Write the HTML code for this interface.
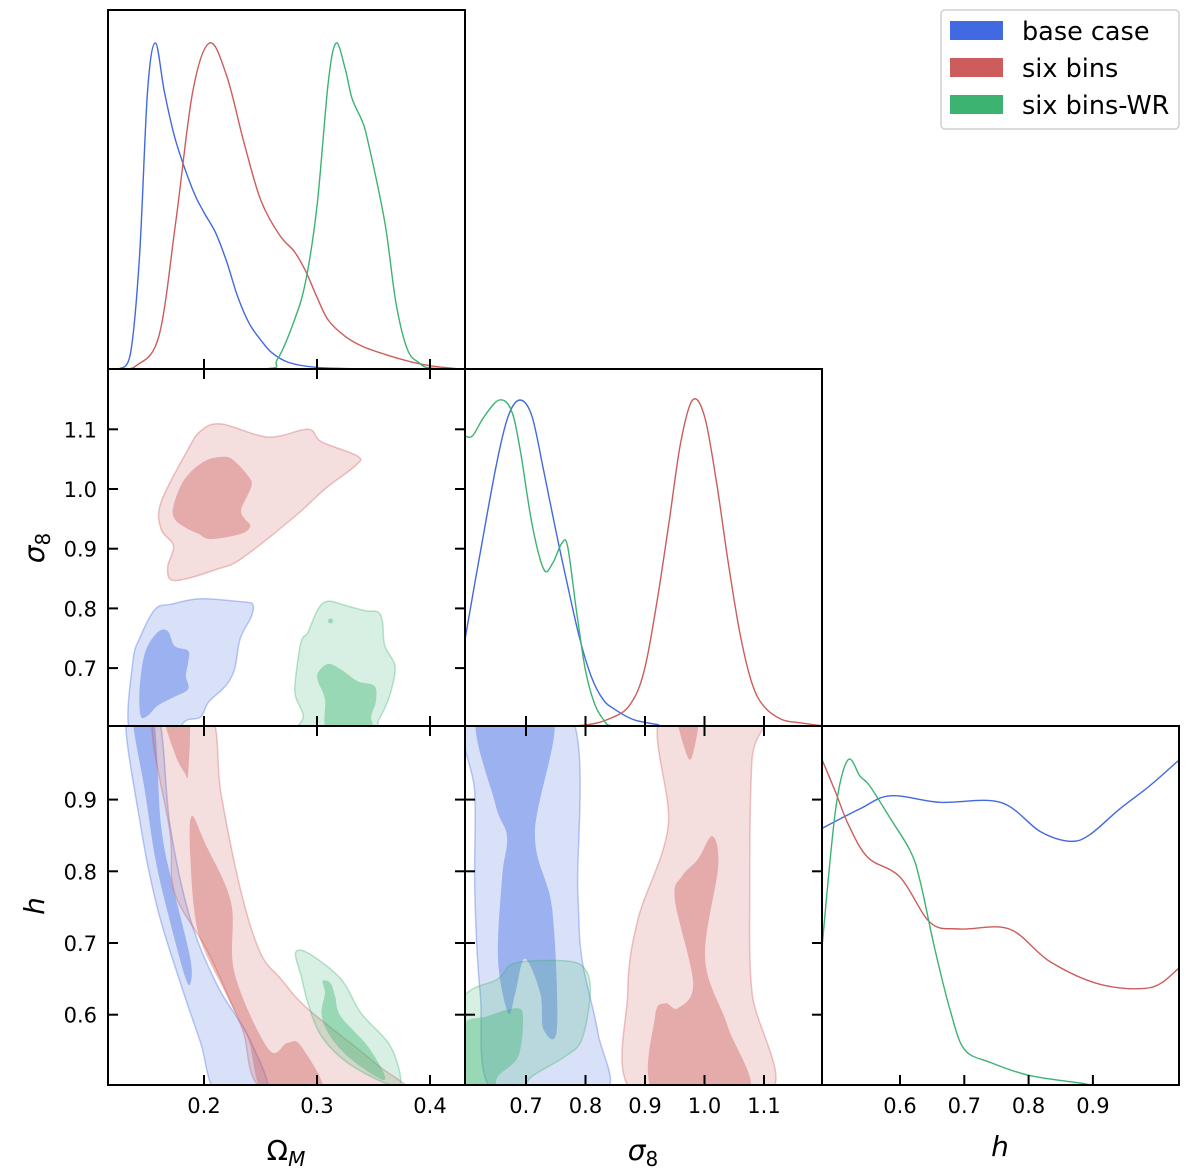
<!DOCTYPE html>
<html><head><meta charset="utf-8"><style>
html,body{margin:0;padding:0;background:#fff;}
svg{display:block;font-family:"DejaVu Sans","Liberation Sans",sans-serif;}
</style></head><body>
<svg id="fig" width="1200" height="1168" viewBox="0 0 1200 1168" xmlns="http://www.w3.org/2000/svg">
<defs>
<clipPath id="c11"><rect x="108" y="10" width="357" height="359"/></clipPath>
<clipPath id="c21"><rect x="108" y="369" width="357" height="357"/></clipPath>
<clipPath id="c22"><rect x="465" y="369" width="357" height="357"/></clipPath>
<clipPath id="c31"><rect x="108" y="726" width="357" height="359"/></clipPath>
<clipPath id="c32"><rect x="465" y="726" width="357" height="359"/></clipPath>
<clipPath id="c33"><rect x="822" y="726" width="357" height="359"/></clipPath>
</defs>
<g id="layer"></g>
</svg>
<script>
// ---- axis data ----
const omTicks=[0.2,0.3,0.4];
const s8Ticks=[0.7,0.8,0.9,1.0,1.1];
const s8YTicks=[0.7,0.8,0.9,1.0,1.1];
const hTicks=[0.6,0.7,0.8,0.9];
const seriesNames=["base case","six bins","six bins-WR"];
const colors=["#4169e1","#cd5c5c","#3cb371"];

// ---- 1D marginals ----
const omBlueX=[0.125,0.135,0.143,0.150,0.157,0.165,0.175,0.190,0.200,0.210,0.220,0.230,0.240,0.250,0.260,0.275,0.300,0.350,0.43];
const omBlueP=[0,0.05,0.35,0.85,1.0,0.85,0.70,0.55,0.48,0.42,0.33,0.22,0.14,0.09,0.05,0.02,0.005,0,0];
const omRedX=[0.125,0.14,0.16,0.175,0.19,0.205,0.22,0.235,0.25,0.267,0.28,0.29,0.30,0.31,0.325,0.34,0.36,0.38,0.40,0.42,0.43];
const omRedP=[0,0.01,0.1,0.45,0.85,1.0,0.9,0.7,0.52,0.41,0.36,0.3,0.22,0.15,0.1,0.07,0.045,0.025,0.01,0.002,0];
const omGreenX=[0.125,0.25,0.265,0.28,0.29,0.30,0.31,0.317,0.325,0.331,0.34,0.345,0.36,0.37,0.38,0.39,0.40,0.43];
const omGreenP=[0,0,0.03,0.15,0.27,0.5,0.88,1.0,0.92,0.83,0.76,0.7,0.45,0.2,0.06,0.02,0.003,0];

const s8BlueX=[0.597,0.62,0.65,0.67,0.69,0.71,0.73,0.75,0.77,0.79,0.81,0.83,0.85,0.88,0.92,0.95,1.2];
const s8BlueP=[0.26,0.5,0.8,0.95,1.0,0.95,0.78,0.6,0.43,0.27,0.15,0.08,0.05,0.02,0.005,0,0];
const s8RedX=[0.597,0.78,0.85,0.88,0.90,0.92,0.94,0.96,0.98,1.0,1.02,1.04,1.06,1.08,1.10,1.13,1.16,1.2];
const s8RedP=[0,0,0.03,0.08,0.18,0.38,0.62,0.87,1.0,0.95,0.75,0.5,0.28,0.13,0.06,0.02,0.01,0];
const s8GreenX=[0.597,0.61,0.63,0.655,0.675,0.69,0.71,0.73,0.745,0.76,0.77,0.785,0.80,0.815,0.83,0.845,0.9];
const s8GreenP=[0.89,0.89,0.95,1.0,0.97,0.85,0.62,0.48,0.5,0.56,0.55,0.35,0.17,0.07,0.02,0,0];

const hBlueX=[0.479,0.538,0.585,0.662,0.756,0.818,0.864,0.895,0.942,0.988,1.034];
const hBlueP=[0.79,0.85,0.89,0.87,0.87,0.78,0.75,0.77,0.85,0.92,1.0];
const hRedX=[0.479,0.5,0.52,0.55,0.6,0.647,0.693,0.77,0.833,0.911,0.99,1.034];
const hRedP=[1.0,0.9,0.8,0.7,0.64,0.5,0.48,0.48,0.38,0.31,0.3,0.36];
const hGreenX=[0.479,0.50,0.519,0.538,0.553,0.585,0.616,0.631,0.654,0.678,0.70,0.74,0.80,0.88,0.91,1.034];
const hGreenP=[0.43,0.85,1.0,0.95,0.92,0.82,0.72,0.63,0.42,0.23,0.11,0.07,0.03,0.006,0,0];

// ---- 2D contours (x,y data pairs) ----
const omS8RedOuter=[[0.170,0.849],[0.168,0.871],[0.173,0.905],[0.162,0.933],[0.162,0.978],[0.186,1.067],[0.197,1.097],[0.215,1.109],[0.257,1.087],[0.292,1.100],[0.304,1.079],[0.336,1.055],[0.334,1.039],[0.307,1.0],[0.281,0.955],[0.233,0.883],[0.212,0.866],[0.183,0.849]];
const omS8RedInner=[[0.174,0.950],[0.173,0.972],[0.183,1.017],[0.201,1.047],[0.219,1.054],[0.228,1.045],[0.239,1.022],[0.242,1.005],[0.233,0.966],[0.236,0.950],[0.241,0.938],[0.233,0.925],[0.206,0.916],[0.195,0.925],[0.183,0.936]];
const omS8BlueOuter=[[0.135,0.590],[0.137,0.710],[0.144,0.754],[0.157,0.799],[0.171,0.807],[0.197,0.816],[0.233,0.811],[0.243,0.807],[0.242,0.787],[0.232,0.749],[0.227,0.698],[0.219,0.670],[0.204,0.643],[0.197,0.618],[0.184,0.612],[0.171,0.590]];
const omS8BlueInner=[[0.144,0.620],[0.143,0.665],[0.148,0.727],[0.159,0.760],[0.168,0.762],[0.174,0.737],[0.186,0.729],[0.186,0.710],[0.184,0.687],[0.186,0.665],[0.174,0.652],[0.159,0.637],[0.150,0.620]];
const omS8GreenOuter=[[0.286,0.590],[0.288,0.620],[0.281,0.653],[0.281,0.682],[0.286,0.744],[0.292,0.760],[0.301,0.799],[0.310,0.812],[0.327,0.804],[0.343,0.796],[0.354,0.794],[0.358,0.777],[0.360,0.737],[0.369,0.704],[0.366,0.665],[0.361,0.637],[0.354,0.610],[0.351,0.590]];
const omS8GreenInner=[[0.310,0.590],[0.307,0.648],[0.301,0.677],[0.301,0.693],[0.310,0.707],[0.321,0.698],[0.336,0.678],[0.351,0.670],[0.352,0.643],[0.348,0.620],[0.347,0.590]];
const omS8GreenDot=[0.312,0.779];

const omHBlueOuter=[[0.131,1.02],[0.144,0.863],[0.159,0.747],[0.180,0.640],[0.197,0.561],[0.212,0.49],[0.256,0.49],[0.239,0.570],[0.212,0.640],[0.188,0.733],[0.170,0.863],[0.159,1.02]];
const omHBlueInner=[[0.137,1.02],[0.155,1.02],[0.162,0.863],[0.174,0.770],[0.188,0.678],[0.188,0.644],[0.183,0.654],[0.168,0.742],[0.157,0.817],[0.148,0.909]];
const omHRedOuter=[[0.155,1.02],[0.170,0.853],[0.174,0.770],[0.204,0.686],[0.233,0.584],[0.258,0.49],[0.376,0.49],[0.351,0.533],[0.292,0.608],[0.268,0.650],[0.250,0.686],[0.233,0.770],[0.215,0.909],[0.205,1.02]];
const omHRedInnerA=[[0.165,1.02],[0.186,1.02],[0.186,0.937],[0.183,0.937],[0.174,0.965]];
const omHRedInnerB=[[0.189,0.877],[0.201,0.839],[0.224,0.756],[0.227,0.658],[0.257,0.552],[0.274,0.561],[0.286,0.556],[0.305,0.49],[0.254,0.49],[0.239,0.566],[0.219,0.630],[0.195,0.714],[0.188,0.817]];
const omHGreenOuter=[[0.281,0.686],[0.292,0.686],[0.321,0.650],[0.339,0.602],[0.365,0.556],[0.374,0.505],[0.360,0.505],[0.327,0.533],[0.304,0.570],[0.292,0.616],[0.286,0.654]];
const omHGreenInner=[[0.305,0.647],[0.312,0.644],[0.316,0.626],[0.321,0.598],[0.345,0.556],[0.360,0.515],[0.354,0.512],[0.327,0.542],[0.310,0.574],[0.304,0.602],[0.307,0.630]];

const s8HBlueOuter=[[0.601,1.02],[0.614,0.909],[0.614,0.770],[0.623,0.630],[0.648,0.49],[0.830,0.49],[0.821,0.574],[0.794,0.678],[0.787,0.770],[0.774,1.02]];
const s8HBlueInner=[[0.619,1.02],[0.745,1.02],[0.715,0.853],[0.744,0.747],[0.752,0.580],[0.729,0.580],[0.724,0.630],[0.698,0.678],[0.682,0.630],[0.670,0.602],[0.653,0.678],[0.660,0.793],[0.668,0.849],[0.648,0.895]];
const s8HGreenOuter=[[0.59,0.616],[0.653,0.650],[0.682,0.672],[0.766,0.675],[0.799,0.664],[0.808,0.630],[0.794,0.566],[0.766,0.542],[0.710,0.514],[0.682,0.49],[0.59,0.49]];
const s8HGreenInner=[[0.59,0.581],[0.636,0.598],[0.682,0.609],[0.695,0.598],[0.687,0.542],[0.653,0.514],[0.643,0.49],[0.59,0.49]];
const s8HRedOuter=[[0.929,1.02],[0.939,0.863],[0.888,0.733],[0.871,0.630],[0.883,0.49],[1.110,0.49],[1.080,0.630],[1.076,0.770],[1.080,0.957],[1.097,1.02]];
const s8HRedInnerA=[[0.954,1.02],[0.989,1.02],[0.981,0.965],[0.971,0.961]];
const s8HRedInnerB=[[1.013,0.849],[1.023,0.807],[1.001,0.678],[1.039,0.584],[1.073,0.49],[0.917,0.49],[0.917,0.598],[0.934,0.616],[0.955,0.609],[0.981,0.644],[0.950,0.761],[0.962,0.793],[0.989,0.817]];

// ---- axis functions ----
const xOm=v=>204+(v-0.2)*1130;
const xS8=v=>526+(v-0.7)*595;
const yS8=v=>489-(v-1.0)*597;
const yH=v=>943-(v-0.7)*717;
const xH=v=>900+(v-0.6)*643;
const yD1=p=>369-326*p, yD2=p=>726-326*p, yD3=p=>1085-325*p;

const NS="http://www.w3.org/2000/svg";
const layer=document.getElementById('layer');
function mk(tag,attrs,parent){const e=document.createElementNS(NS,tag);for(const k in attrs)e.setAttribute(k,attrs[k]);(parent||layer).appendChild(e);return e;}
function spline(pts,closed){
  const n=pts.length;let d="M"+pts[0][0].toFixed(1)+","+pts[0][1].toFixed(1);
  const g=i=>closed?pts[(i+n)%n]:pts[Math.max(0,Math.min(n-1,i))];
  const m=closed?n:n-1;
  for(let i=0;i<m;i++){const p0=g(i-1),p1=g(i),p2=g(i+1),p3=g(i+2);
    const c1=[p1[0]+(p2[0]-p0[0])/6,p1[1]+(p2[1]-p0[1])/6],c2=[p2[0]-(p3[0]-p1[0])/6,p2[1]-(p3[1]-p1[1])/6];
    d+=`C${c1[0].toFixed(1)},${c1[1].toFixed(1)} ${c2[0].toFixed(1)},${c2[1].toFixed(1)} ${p2[0].toFixed(1)},${p2[1].toFixed(1)}`;}
  return d+(closed?"Z":"");
}
function contour(data,fx,fy,color,level,clip,name){
  const pts=data.map(p=>[fx(p[0]),fy(p[1])]);
  const e=mk('path',{d:spline(pts,true),fill:color,'fill-opacity':level?0.4:0.2,stroke:color,'stroke-opacity':level?0:0.35,'stroke-width':1.5,'clip-path':`url(#${clip})`});
  
  
}
function curve(xs,ps,fx,fy,color,clip,name){
  const pts=xs.map((x,i)=>[fx(x),fy(ps[i])]);
  const e=mk('path',{d:spline(pts,false),fill:'none',stroke:color,'stroke-width':1.4,'clip-path':`url(#${clip})`});
  
  
}
// contours
contour(omS8RedOuter,xOm,yS8,colors[1],0,'c21','contour-omega-sigma8-sixbins-outer');
contour(omS8RedInner,xOm,yS8,colors[1],1,'c21','contour-omega-sigma8-sixbins-inner');
contour(omS8BlueOuter,xOm,yS8,colors[0],0,'c21','contour-omega-sigma8-base-outer');
contour(omS8BlueInner,xOm,yS8,colors[0],1,'c21','contour-omega-sigma8-base-inner');
contour(omS8GreenOuter,xOm,yS8,colors[2],0,'c21','contour-omega-sigma8-wr-outer');
contour(omS8GreenInner,xOm,yS8,colors[2],1,'c21','contour-omega-sigma8-wr-inner');
const dot=mk('circle',{cx:xOm(omS8GreenDot[0]),cy:yS8(omS8GreenDot[1]),r:2.5,fill:colors[2],'fill-opacity':0.4});



contour(omHBlueOuter,xOm,yH,colors[0],0,'c31','contour-omega-h-base-outer');
contour(omHBlueInner,xOm,yH,colors[0],1,'c31','contour-omega-h-base-inner');
contour(omHRedOuter,xOm,yH,colors[1],0,'c31','contour-omega-h-sixbins-outer');
contour(omHRedInnerA,xOm,yH,colors[1],1,'c31','contour-omega-h-sixbins-inner-top');
contour(omHRedInnerB,xOm,yH,colors[1],1,'c31','contour-omega-h-sixbins-inner');
contour(omHGreenOuter,xOm,yH,colors[2],0,'c31','contour-omega-h-wr-outer');
contour(omHGreenInner,xOm,yH,colors[2],1,'c31','contour-omega-h-wr-inner');

contour(s8HBlueOuter,xS8,yH,colors[0],0,'c32','contour-sigma8-h-base-outer');
contour(s8HBlueInner,xS8,yH,colors[0],1,'c32','contour-sigma8-h-base-inner');
contour(s8HRedOuter,xS8,yH,colors[1],0,'c32','contour-sigma8-h-sixbins-outer');
contour(s8HRedInnerA,xS8,yH,colors[1],1,'c32','contour-sigma8-h-sixbins-inner-top');
contour(s8HRedInnerB,xS8,yH,colors[1],1,'c32','contour-sigma8-h-sixbins-inner');
contour(s8HGreenOuter,xS8,yH,colors[2],0,'c32','contour-sigma8-h-wr-outer');
contour(s8HGreenInner,xS8,yH,colors[2],1,'c32','contour-sigma8-h-wr-inner');

// marginals
curve(omBlueX,omBlueP,xOm,yD1,colors[0],'c11','marginal-omega-base');
curve(omRedX,omRedP,xOm,yD1,colors[1],'c11','marginal-omega-sixbins');
curve(omGreenX,omGreenP,xOm,yD1,colors[2],'c11','marginal-omega-wr');
curve(s8BlueX,s8BlueP,xS8,yD2,colors[0],'c22','marginal-sigma8-base');
curve(s8RedX,s8RedP,xS8,yD2,colors[1],'c22','marginal-sigma8-sixbins');
curve(s8GreenX,s8GreenP,xS8,yD2,colors[2],'c22','marginal-sigma8-wr');
curve(hBlueX,hBlueP,xH,yD3,colors[0],'c33','marginal-h-base');
curve(hRedX,hRedP,xH,yD3,colors[1],'c33','marginal-h-sixbins');
curve(hGreenX,hGreenP,xH,yD3,colors[2],'c33','marginal-h-wr');

// panels frames + ticks
const panels=[
 {x:108,y:10,w:357,h:359,xt:omTicks,fx:xOm,top:false,yt:null,name:'panel-omega-marginal'},
 {x:108,y:369,w:357,h:357,xt:omTicks,fx:xOm,top:true,yt:s8YTicks,fy:yS8,name:'panel-omega-sigma8'},
 {x:465,y:369,w:357,h:357,xt:s8Ticks,fx:xS8,top:false,yt:null,name:'panel-sigma8-marginal'},
 {x:108,y:726,w:357,h:359,xt:omTicks,fx:xOm,top:true,yt:hTicks,fy:yH,name:'panel-omega-h'},
 {x:465,y:726,w:357,h:359,xt:s8Ticks,fx:xS8,top:true,yt:hTicks,fy:yH,name:'panel-sigma8-h'},
 {x:822,y:726,w:357,h:359,xt:hTicks,fx:xH,top:false,yt:null,name:'panel-h-marginal'}];
panels.forEach(p=>{
  const g=mk('g',{});
  
  
  mk('rect',{x:p.x,y:p.y,width:p.w,height:p.h,fill:'none',stroke:'#000','stroke-width':2},g);
  p.xt.forEach(t=>{const X=p.fx(t);
    mk('line',{x1:X,x2:X,y1:p.y+p.h,y2:p.y+p.h-10,stroke:'#000','stroke-width':2},g);
    if(p.top)mk('line',{x1:X,x2:X,y1:p.y,y2:p.y+10,stroke:'#000','stroke-width':2},g);});
  if(p.yt)p.yt.forEach(t=>{const Y=p.fy(t);
    mk('line',{x1:p.x,x2:p.x+10,y1:Y,y2:Y,stroke:'#000','stroke-width':2},g);
    mk('line',{x1:p.x+p.w-10,x2:p.x+p.w,y1:Y,y2:Y,stroke:'#000','stroke-width':2},g);});
});
// tick labels
function lab(x,y,txt,anchor,name){const e=mk('text',{x:x,y:y,'font-size':21,'text-anchor':anchor,fill:'#000'});e.textContent=txt;
  
  }
omTicks.forEach(t=>lab(xOm(t),1113,t.toFixed(1),'middle','x-tick-omega'));
s8Ticks.forEach(t=>lab(xS8(t),1113,t.toFixed(1),'middle','x-tick-sigma8'));
hTicks.forEach(t=>lab(xH(t),1113,t.toFixed(1),'middle','x-tick-h'));
s8YTicks.forEach(t=>lab(97,yS8(t)+8,t.toFixed(1),'end','y-tick-sigma8'));
hTicks.forEach(t=>lab(97,yH(t)+8,t.toFixed(1),'end','y-tick-h'));
</script>
<svg width="1200" height="1168" style="position:absolute;left:0;top:0" xmlns="http://www.w3.org/2000/svg">
<text x="286" y="1160" font-size="28" text-anchor="middle" font-family="DejaVu Sans,sans-serif">Ω<tspan font-style="italic" font-size="20" dy="6">M</tspan></text>
<text x="643" y="1160" font-size="28" text-anchor="middle" font-family="DejaVu Sans,sans-serif" font-style="italic">σ<tspan font-style="normal" font-size="20" dy="6">8</tspan></text>
<text x="1000" y="1156" font-size="28" text-anchor="middle" font-family="DejaVu Sans,sans-serif" font-style="italic">h</text>
<text transform="translate(44,548) rotate(-90)" font-size="28" text-anchor="middle" font-family="DejaVu Sans,sans-serif" font-style="italic">σ<tspan font-style="normal" font-size="20" dy="6">8</tspan></text>
<text transform="translate(44,906) rotate(-90)" font-size="28" text-anchor="middle" font-family="DejaVu Sans,sans-serif" font-style="italic">h</text>
<g>
<rect x="941" y="10" width="238" height="119" rx="4" fill="#fff" stroke="#d0d0d0" stroke-width="1.5"/>
<rect x="950" y="21" width="53" height="19" fill="#4169e1"/>
<text x="1022" y="40" font-size="25.5" font-family="DejaVu Sans,sans-serif">base case</text>
<rect x="950" y="58" width="53" height="19" fill="#cd5c5c"/>
<text x="1022" y="77" font-size="25.5" font-family="DejaVu Sans,sans-serif">six bins</text>
<rect x="950" y="95" width="53" height="19" fill="#3cb371"/>
<text x="1022" y="114" font-size="25.5" font-family="DejaVu Sans,sans-serif">six bins-WR</text>
</g>
</svg>
</body></html>
